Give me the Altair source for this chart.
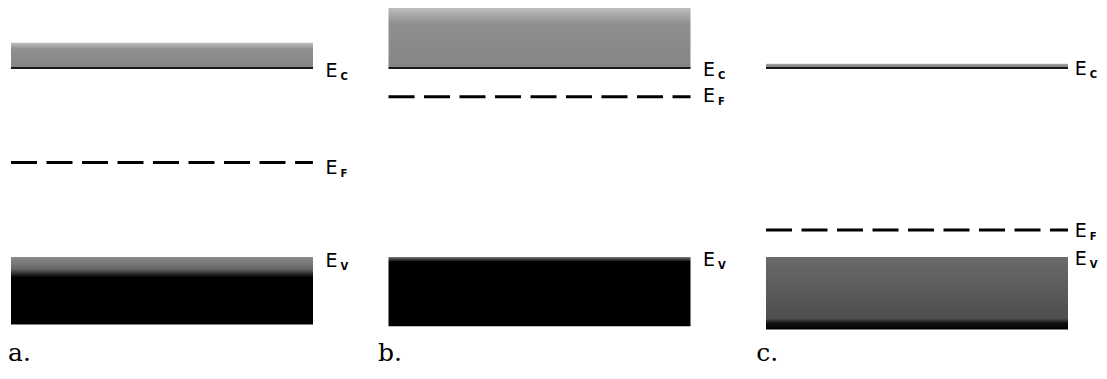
import altair as alt
import pandas as pd

# Energy-band diagrams: a. intrinsic, b. n-type, c. p-type (energies in eV, Ev = 0)
panels = ["a.", "b.", "c."]
slot = [0.0, 1.0, 2.0]          # panel index along the horizontal
band_len = [0.8, 0.8, 0.8]      # band length in panel units
E_c = [1.12, 1.12, 1.12]        # conduction band edge
E_v = [0.0, 0.0, 0.0]           # valence band edge
E_f = [0.56, 0.95, 0.16]        # Fermi level
cb_fill_top = [1.27, 1.51, 1.145]    # extent of occupied conduction states
vb_bottom = [-0.40, -0.41, -0.43]    # bottom of drawn valence band

# label anchors (panel units / eV baseline)
lab_dx = [0.833, 0.833, 0.818]
lab_c = [1.067, 1.073, 1.079]
lab_f = [0.492, 0.919, 0.119]
lab_v = [-0.059, -0.053, -0.047]
panel_label_x = [-0.008, 0.972, 1.974]
panel_label_E = [-0.616, -0.616, -0.616]

df = pd.DataFrame({
    "panel": panels,
    "x0": slot,
    "x1": [s + l for s, l in zip(slot, band_len)],
    "Ec": E_c, "Ev": E_v, "Ef": E_f,
    "cb_top": cb_fill_top, "vb_bot": vb_bottom,
    "plab_x": panel_label_x,
    "plab_y": panel_label_E,
})

labels = []
for i in range(3):
    for y, s in ((lab_c[i], "C"), (lab_f[i], "F"), (lab_v[i], "V")):
        labels.append({"x": slot[i] + lab_dx[i], "y": y, "main": "E", "sub": s})
ldf = pd.DataFrame(labels)

W, H = 1091, 360
# page x = 11 + 377.5 * x ; page y = 257 - 168.75 * E  (chart origin at page 8,8)
xs = alt.Scale(domain=[-3 / 377.5, (8 + W - 11) / 377.5], nice=False, zero=False)
ys = alt.Scale(domain=[(257 - 8 - H) / 168.75, 249 / 168.75], nice=False, zero=False, clamp=True)

base = alt.Chart(df)

def grad(stops):
    return alt.LinearGradient(
        gradient="linear",
        stops=[alt.GradientStop(offset=o, color=c) for o, c in stops],
        x1=0, x2=0, y1=0, y2=1,
    )

cb = base.mark_rect(fill=grad([(0, "#bdbdbd"), (0.25, "#909090"), (1, "#858585")])).encode(
    x=alt.X("x0:Q", scale=xs, axis=None),
    x2="x1:Q",
    y=alt.Y("cb_top:Q", scale=ys, axis=None),
    y2="Ec:Q",
)

def vb(panel, stops):
    return base.transform_filter(alt.datum.panel == panel).mark_rect(fill=grad(stops)).encode(
        x=alt.X("x0:Q", scale=xs, axis=None),
        x2="x1:Q",
        y=alt.Y("Ev:Q", scale=ys, axis=None),
        y2="vb_bot:Q",
    )

vba = vb("a.", [(0, "#8c8c8c"), (0.18, "#666666"), (0.3, "#000000"), (1, "#000000")])
vbb = vb("b.", [(0, "#7a7a7a"), (0.04, "#333333"), (0.07, "#000000"), (1, "#000000")])
vbc = vb("c.", [(0, "#6a6a6a"), (0.85, "#4e4e4e"), (0.91, "#111111"), (1, "#000000")])

ec_line = base.mark_rule(color="#1a1a1a", strokeWidth=2).encode(
    x=alt.X("x0:Q", scale=xs, axis=None), x2="x1:Q",
    y=alt.Y("Ec:Q", scale=ys, axis=None),
)
ef_line = base.mark_rule(color="black", strokeWidth=3, strokeDash=[26, 9.5]).encode(
    x=alt.X("x0:Q", scale=xs, axis=None), x2="x1:Q",
    y=alt.Y("Ef:Q", scale=ys, axis=None),
)

lab_main = alt.Chart(ldf).mark_text(
    align="left", baseline="alphabetic", font="DejaVu Sans", fontSize=19, color="black"
).encode(
    x=alt.X("x:Q", scale=xs, axis=None), y=alt.Y("y:Q", scale=ys, axis=None), text="main:N"
)
lab_sub = alt.Chart(ldf).mark_text(
    align="left", baseline="alphabetic", font="DejaVu Sans", fontSize=10, fontWeight="bold",
    color="black", dx=15, dy=3
).encode(
    x=alt.X("x:Q", scale=xs, axis=None), y=alt.Y("y:Q", scale=ys, axis=None), text="sub:N"
)

plab = base.mark_text(
    align="left", baseline="alphabetic", font="DejaVu Serif", fontSize=25, color="black"
).encode(
    x=alt.X("plab_x:Q", scale=xs, axis=None), y=alt.Y("plab_y:Q", scale=ys, axis=None), text="panel:N"
)

chart = alt.layer(cb, vba, vbb, vbc, ec_line, ef_line, lab_main, lab_sub, plab).properties(
    width=W, height=H, autosize=alt.AutoSizeParams(type="none"), padding=0,
    background="white",
).configure_view(stroke=None)

chart.save("out.html", embed_options={"renderer": "svg", "actions": False})
